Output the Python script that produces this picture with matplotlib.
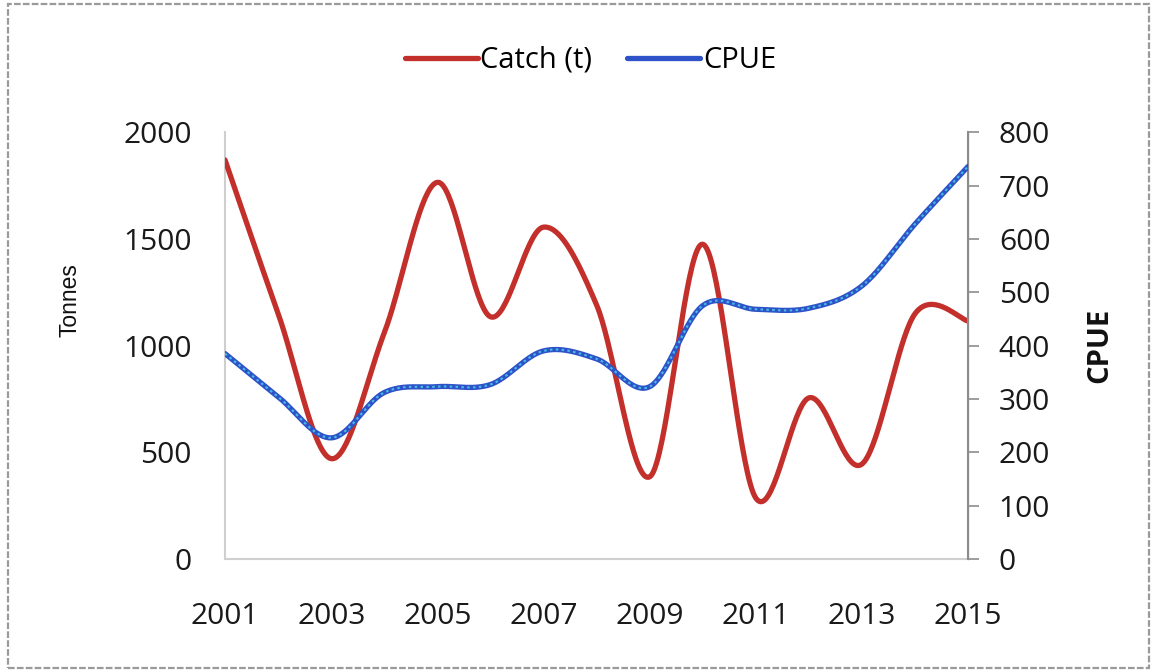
import numpy as np
import matplotlib
matplotlib.use("Agg")
import matplotlib.pyplot as plt
from matplotlib.patches import Rectangle

years = [2001, 2002, 2003, 2004, 2005, 2006, 2007, 2008,
         2009, 2010, 2011, 2012, 2013, 2014, 2015]
catch_t = [1870, 1150, 470, 1060, 1765, 1135, 1555, 1190,
           385, 1475, 285, 755, 445, 1150, 1115]
cpue = [385, 304, 227, 312, 323, 327, 390, 375,
        323, 475, 468, 470, 512, 628, 736]

left_ticks = [0, 500, 1000, 1500, 2000]
right_ticks = [0, 100, 200, 300, 400, 500, 600, 700, 800]
x_ticks = [2001, 2003, 2005, 2007, 2009, 2011, 2013, 2015]


def smooth(x, y, n=40):
    """Catmull-Rom curve through the points (spreadsheet-style smoothed line)."""
    x = np.asarray(x, float)
    y = np.asarray(y, float)
    px = np.concatenate([[x[0]], x, [x[-1]]])
    py = np.concatenate([[y[0]], y, [y[-1]]])
    xs, ys = [], []
    t = np.linspace(0, 1, n)
    for i in range(1, len(px) - 2):
        p0, p1, p2, p3 = px[i - 1], px[i], px[i + 1], px[i + 2]
        q0, q1, q2, q3 = py[i - 1], py[i], py[i + 1], py[i + 2]
        c1x, c2x = p1 + (p2 - p0) / 6, p2 - (p3 - p1) / 6
        c1y, c2y = q1 + (q2 - q0) / 6, q2 - (q3 - q1) / 6
        b0 = (1 - t) ** 3
        b1 = 3 * (1 - t) ** 2 * t
        b2 = 3 * (1 - t) * t ** 2
        b3 = t ** 3
        xs.append(b0 * p1 + b1 * c1x + b2 * c2x + b3 * p2)
        ys.append(b0 * q1 + b1 * c1y + b2 * c2y + b3 * q2)
    return np.concatenate(xs), np.concatenate(ys)


fig = plt.figure(figsize=(11.54, 6.71), dpi=100)
fig.patch.set_facecolor("white")

# outer chart frame
fig.add_artist(Rectangle((0.007, 0.004), 0.989, 0.99, transform=fig.transFigure,
                         fill=False, edgecolor="#9a9a9a", linewidth=1.6,
                         linestyle=(0, (3, 1))))

ax = fig.add_axes([0.195, 0.167, 0.644, 0.636])
ax2 = ax.twinx()

red = "#C3302B"
blue = "#2E52C8"
cyan = "#45BDE3"

cx, cy = smooth(years, catch_t)
ax.plot(cx, cy, color=red, lw=3.8, solid_capstyle="round", zorder=3)

ux, uy = smooth(years, cpue)
ax2.plot(ux, uy, color=blue, lw=3.8, solid_capstyle="round", zorder=3)
ax2.plot(ux, uy, color=cyan, lw=1.5, linestyle=(0, (1.2, 1.6)), zorder=4)

ax.set_xlim(2001, 2015)
ax.set_ylim(0, 2000)
ax2.set_ylim(0, 800)
ax.set_xticks(x_ticks)
ax.set_yticks(left_ticks)
ax2.set_yticks(right_ticks)

tick_font = dict(family="Open Sans", size=21.5, color="#1a1a1a")
ax.set_xticklabels([str(v) for v in x_ticks], **tick_font)
ax.set_yticklabels([str(v) for v in left_ticks], **tick_font)
ax2.set_yticklabels([str(v) for v in right_ticks], **tick_font)

ax.tick_params(axis="x", length=0, pad=31)
ax.tick_params(axis="y", length=0, pad=24)
ax2.tick_params(axis="y", length=8, width=1.2, color="#8c8c8c", pad=14, direction="out")

for a in (ax, ax2):
    a.spines["top"].set_visible(False)
ax.spines["left"].set_color("#cfcfcf")
ax.spines["left"].set_linewidth(1.5)
ax.spines["bottom"].set_color("#cfcfcf")
ax.spines["bottom"].set_linewidth(1.5)
ax2.spines["left"].set_visible(False)
ax2.spines["bottom"].set_visible(False)
ax2.spines["right"].set_color("#8c8c8c")
ax2.spines["right"].set_linewidth(1.5)

fig.text(0.061, 0.553, "Tonnes", rotation=90, ha="center", va="center",
         family="Liberation Sans", fontsize=16.5, color="#111111")
fig.text(0.953, 0.485, "CPUE", rotation=90, ha="center", va="center",
         family="Open Sans", fontweight="bold", fontsize=21, color="#111111")

leg = ax.legend(handles=[ax.lines[0], ax2.lines[0]], labels=["Catch (t)", "CPUE"],
                loc="center", bbox_to_anchor=(0.5118, 0.910),
                bbox_transform=fig.transFigure, ncol=2, frameon=False,
                prop=dict(family="Open Sans", size=21), handlelength=2.5,
                handletextpad=0.1, columnspacing=1.2)

fig.savefig("out.png", dpi=100, facecolor="white")
